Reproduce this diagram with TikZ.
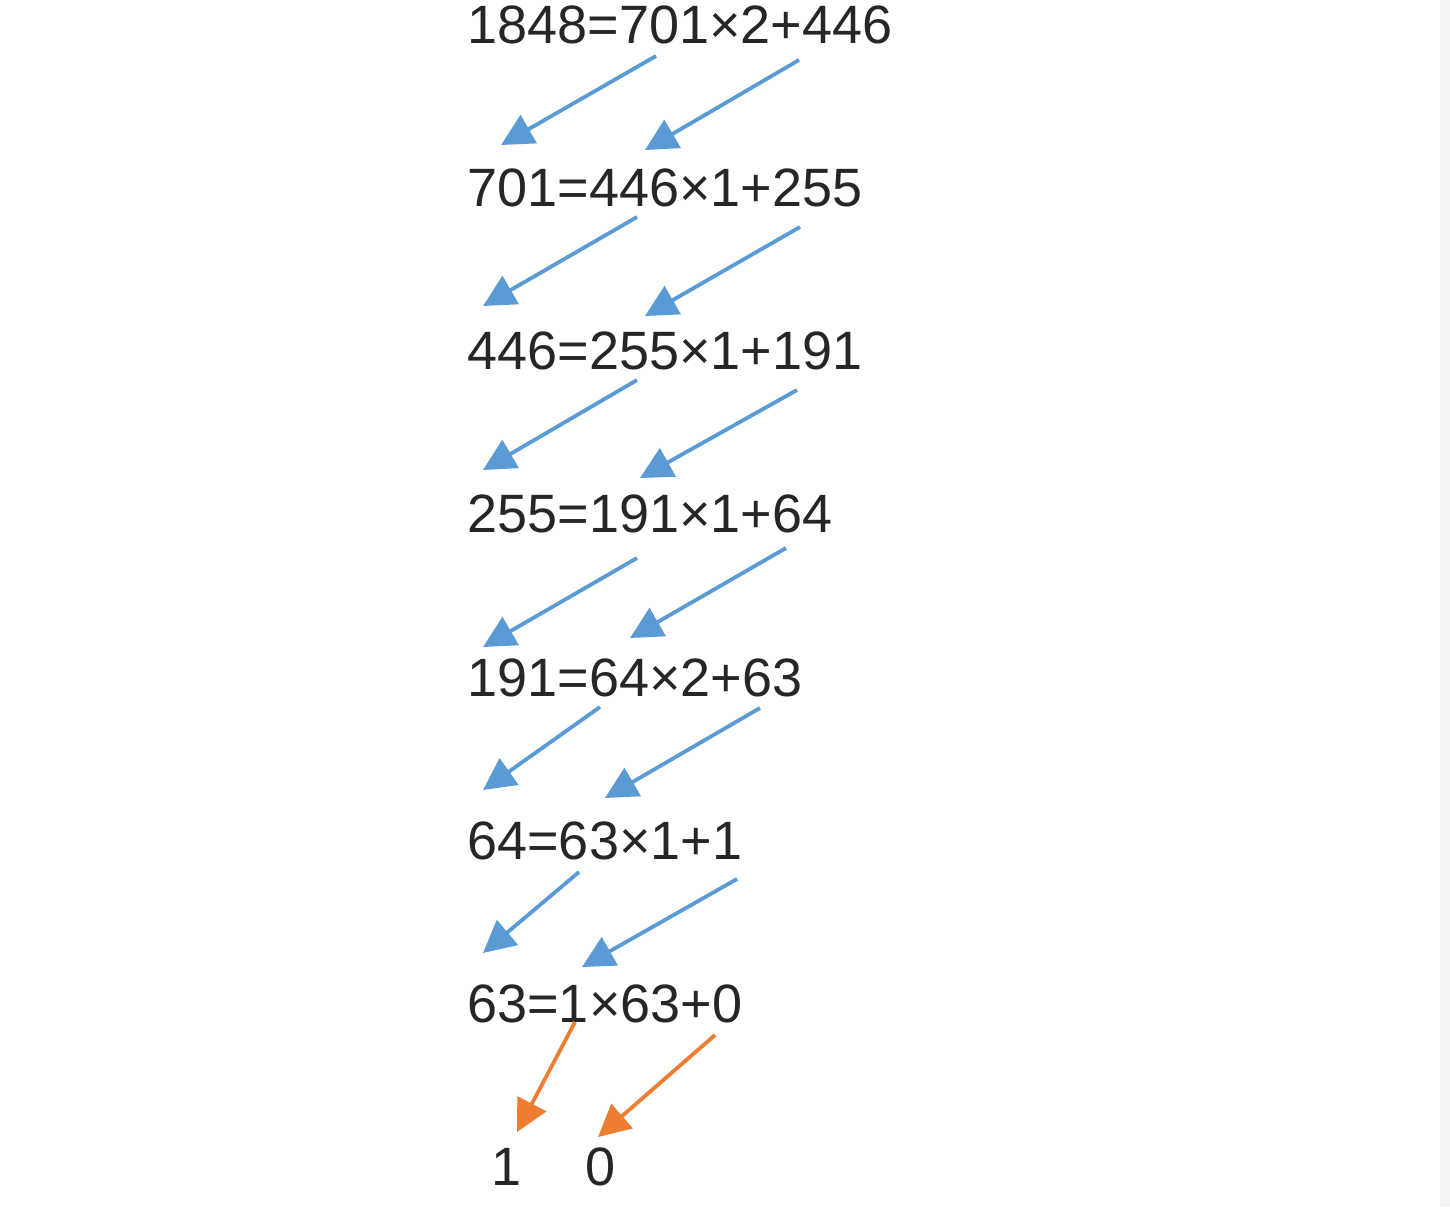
\documentclass[tikz,border=0pt]{standalone}
\usepackage{fontspec}
\setmainfont{Liberation Sans}
\usetikzlibrary{arrows.meta}
\definecolor{arrblue}{HTML}{5B9BD5}
\definecolor{arrorange}{HTML}{ED7D31}
\definecolor{txtgray}{HTML}{262626}
\tikzset{
  eqline/.style={anchor=base west, inner sep=0pt, text=txtgray, font=\fontsize{27}{31}\selectfont},
  bitnum/.style={anchor=base, inner sep=0pt, text=txtgray, font=\fontsize{27}{31}\selectfont},
  stepline/.style={line width=1.9pt, arrblue, -{Triangle[length=16pt,width=16pt]}},
  lastline/.style={line width=1.9pt, arrorange, -{Triangle[length=16pt,width=16pt]}}
}
\begin{document}
\begin{tikzpicture}[x=0.5pt,y=-0.5pt]
  % Page frame and the grey strip at the right edge
  \useasboundingbox (0,0) rectangle (1450,1206);
  \fill[white] (0,0) rectangle (1450,1206);
  \fill[gray!9] (1440,0) rectangle (1450,1206);

  % The division steps
  \node[eqline] (e1) at (467,43)   {1848=701×2+446};
  \node[eqline] (e2) at (467,206)  {701=446×1+255};
  \node[eqline] (e3) at (467,369)  {446=255×1+191};
  \node[eqline] (e4) at (467,532)  {255=191×1+64};
  \node[eqline] (e5) at (467,696)  {191=64×2+63};
  \node[eqline] (e6) at (467,859)  {64=63×1+1};
  \node[eqline] (e7) at (467,1022) {63=1×63+0};

  % The two results
  \node[bitnum] (b1) at (507,1185) {1};
  \node[bitnum] (b0) at (601,1185) {0};

  % Start and end points of the arrows
  \coordinate (s1a) at (656,56);   \coordinate (t1a) at (501,145);
  \coordinate (s1b) at (799,60);   \coordinate (t1b) at (645,150);
  \coordinate (s2a) at (637,217);  \coordinate (t2a) at (483,306);
  \coordinate (s2b) at (800,227);  \coordinate (t2b) at (645,316);
  \coordinate (s3a) at (637,380);  \coordinate (t3a) at (483,470);
  \coordinate (s3b) at (797,390);  \coordinate (t3b) at (640,478);
  \coordinate (s4a) at (637,558);  \coordinate (t4a) at (483,647);
  \coordinate (s4b) at (786,548);  \coordinate (t4b) at (630,638);
  \coordinate (s5a) at (600,707);  \coordinate (t5a) at (483,790);
  \coordinate (s5b) at (760,708);  \coordinate (t5b) at (605,798);
  \coordinate (s6a) at (579,872);  \coordinate (t6a) at (483,953);
  \coordinate (s6b) at (737,879);  \coordinate (t6b) at (582,967);
  \coordinate (s7a) at (575,1022); \coordinate (t7a) at (517,1132);
  \coordinate (s7b) at (715,1035); \coordinate (t7b) at (598,1137);

  % Blue arrows between the steps
  \draw[stepline] (s1a) -- (t1a);
  \draw[stepline] (s1b) -- (t1b);
  \draw[stepline] (s2a) -- (t2a);
  \draw[stepline] (s2b) -- (t2b);
  \draw[stepline] (s3a) -- (t3a);
  \draw[stepline] (s3b) -- (t3b);
  \draw[stepline] (s4a) -- (t4a);
  \draw[stepline] (s4b) -- (t4b);
  \draw[stepline] (s5a) -- (t5a);
  \draw[stepline] (s5b) -- (t5b);
  \draw[stepline] (s6a) -- (t6a);
  \draw[stepline] (s6b) -- (t6b);

  % Orange arrows to the results
  \draw[lastline] (s7a) -- (t7a);
  \draw[lastline] (s7b) -- (t7b);
\end{tikzpicture}
\end{document}
